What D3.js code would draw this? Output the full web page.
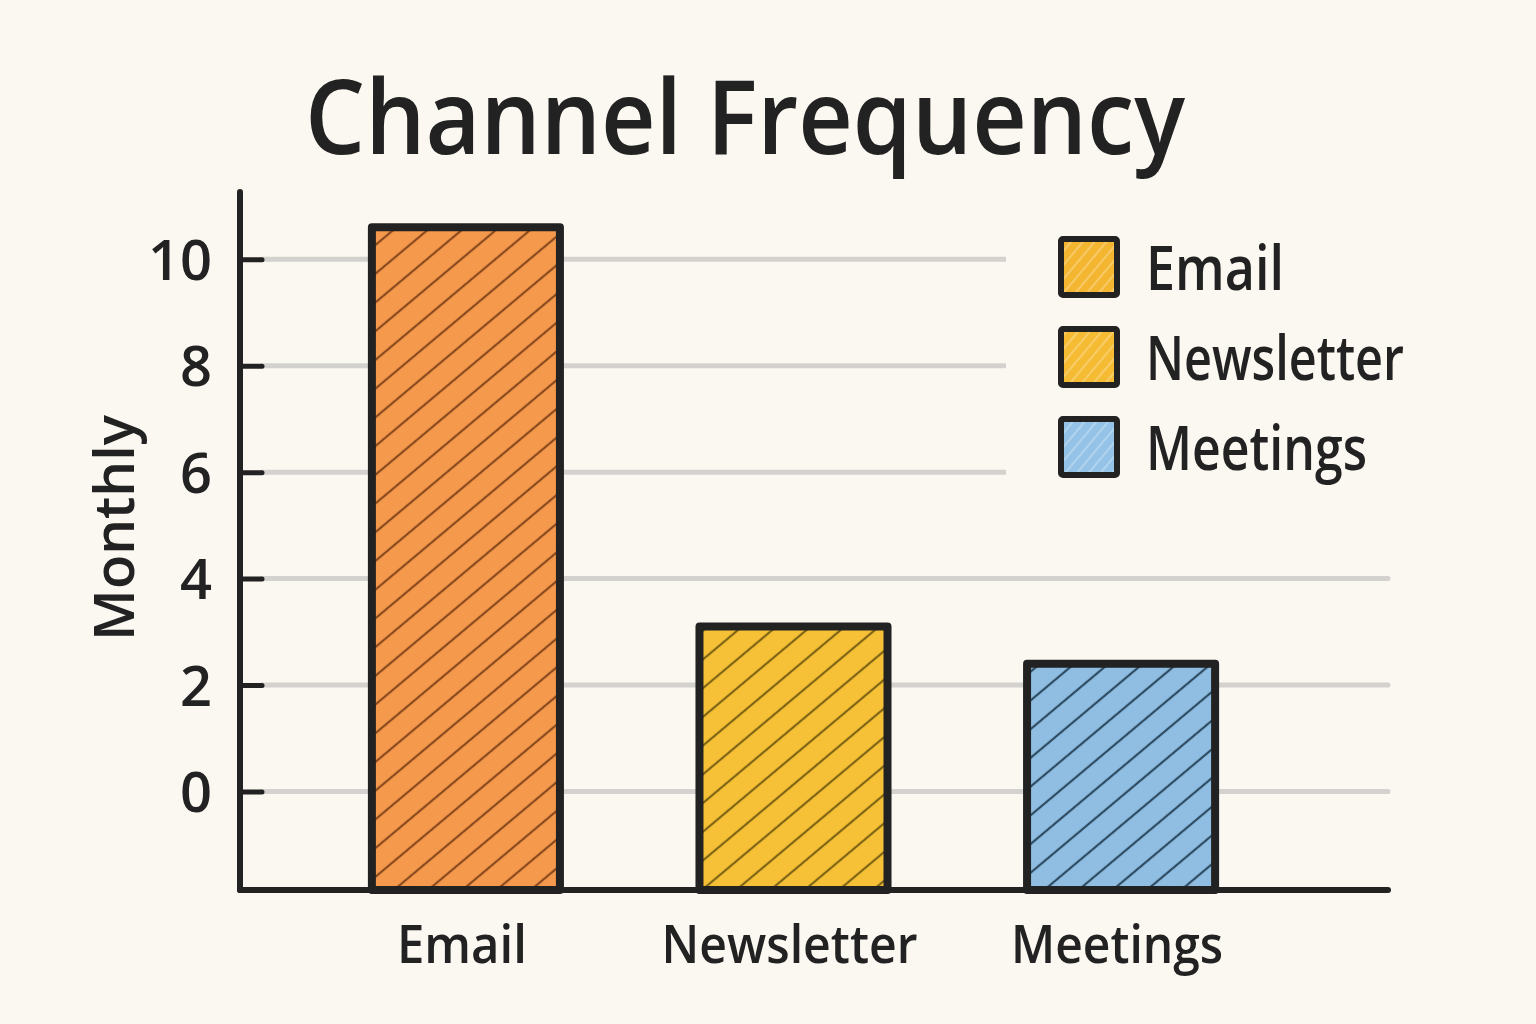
<!DOCTYPE html>
<html>
<head>
<meta charset="utf-8">
<script src="https://cdn.jsdelivr.net/npm/d3@7"></script>
<style>
  html, body { margin: 0; padding: 0; background: #FBF7F1; }
  svg { display: block; }
  text { font-family: "Open Sans", "Noto Sans", sans-serif; fill: #222; }
</style>
</head>
<body>
<svg id="chart" width="1536" height="1024"></svg>
<script>
// ---- data ----
const categories = ["Email", "Newsletter", "Meetings"];
const values = [10.6, 3.1, 2.4];
const yTicks = [0, 2, 4, 6, 8, 10];
const legendLabels = ["Email", "Newsletter", "Meetings"];
const titleText = "Channel Frequency";
const yLabelText = "Monthly";

// ---- styles ----
const barFill = ["#F5994C", "#F6C136", "#8FBEE2"];
const hatchColor = ["#8A4A1E", "#7E6414", "#2E4B62"];
const legendFill = ["#F4B631", "#F5BB33", "#95C3E7"];
const ink = "#222222";
const bg = "#FBF7F1";

const svg = d3.select("#chart");
svg.append("rect").attr("width", 1536).attr("height", 1024).attr("fill", bg);

const x = d3.scaleBand().domain(categories).range([290, 1297])
  .paddingInner(0.426).paddingOuter(0.25);
const y = d3.scaleLinear().domain([-1.85, 11.3]).range([890, 190]);
const baseY = y(-1.85);

// patterns
const defs = svg.append("defs");
categories.forEach((c, i) => {
  const p = defs.append("pattern").attr("id", "hatch" + i)
    .attr("patternUnits", "userSpaceOnUse").attr("width", 22).attr("height", 22)
    .attr("patternTransform", "rotate(-40)");
  p.append("rect").attr("width", 22).attr("height", 22).attr("fill", barFill[i]);
  p.append("line").attr("x1", 0).attr("y1", 11).attr("x2", 22).attr("y2", 11)
    .attr("stroke", hatchColor[i]).attr("stroke-width", 2.2);
});
legendLabels.forEach((c, i) => {
  const p = defs.append("pattern").attr("id", "lhatch" + i)
    .attr("patternUnits", "userSpaceOnUse").attr("width", 9).attr("height", 9)
    .attr("patternTransform", "rotate(-50)");
  p.append("rect").attr("width", 9).attr("height", 9).attr("fill", legendFill[i]);
  p.append("line").attr("x1", 0).attr("y1", 4).attr("x2", 9).attr("y2", 4)
    .attr("stroke", "#ffffff").attr("stroke-opacity", 0.35).attr("stroke-width", 1.5);
});

// gridlines
svg.append("g").selectAll("line").data(yTicks).join("line")
  .attr("x1", 262).attr("x2", 1388)
  .attr("y1", d => y(d)).attr("y2", d => y(d))
  .attr("stroke", "#D4D2CE").attr("stroke-width", 5).attr("stroke-linecap", "round");

// y axis
const yAxis = d3.axisLeft(y).tickValues(yTicks).tickSize(0).tickPadding(28);
const gy = svg.append("g").attr("transform", "translate(240,0)").call(yAxis);
gy.select(".domain").remove();
gy.selectAll("text").attr("font-size", 56).attr("font-weight", 600)
  .attr("fill", ink).attr("dy", "0.36em").style("font-family", "'Open Sans', sans-serif");
gy.selectAll(".tick").append("line").attr("x1", 0).attr("x2", 22)
  .attr("stroke", ink).attr("stroke-width", 5).attr("stroke-linecap", "round");

svg.append("line").attr("x1", 240).attr("x2", 240).attr("y1", 192).attr("y2", baseY)
  .attr("stroke", ink).attr("stroke-width", 6).attr("stroke-linecap", "round");

// bars
svg.append("g").selectAll("rect").data(values).join("rect")
  .attr("x", (d, i) => x(categories[i]))
  .attr("width", x.bandwidth())
  .attr("y", d => y(d))
  .attr("height", d => baseY - y(d))
  .attr("fill", (d, i) => `url(#hatch${i})`)
  .attr("stroke", ink).attr("stroke-width", 8).attr("stroke-linejoin", "round");

// x axis line
svg.append("line").attr("x1", 240).attr("x2", 1388).attr("y1", baseY).attr("y2", baseY)
  .attr("stroke", ink).attr("stroke-width", 6).attr("stroke-linecap", "round");

// x labels
const xLabelWidths = [130, 256, 212];
svg.append("g").selectAll("text").data(categories).join("text")
  .attr("x", d => x(d) + x.bandwidth() / 2 - 4)
  .attr("y", 963)
  .attr("text-anchor", "middle")
  .attr("font-size", 52).attr("font-weight", 600)
  .attr("textLength", (d, i) => xLabelWidths[i]).attr("lengthAdjust", "spacingAndGlyphs")
  .text(d => d);

// legend
const lg = svg.append("g");
lg.append("rect").attr("x", 1006).attr("y", 222).attr("width", 420).attr("height", 280).attr("fill", bg);
const legendWidths = [138, 258, 221];
legendLabels.forEach((d, i) => {
  const cy = 267 + i * 90;
  lg.append("rect").attr("x", 1061).attr("y", cy - 28).attr("width", 56).attr("height", 56)
    .attr("fill", `url(#lhatch${i})`).attr("stroke", ink).attr("stroke-width", 6)
    .attr("rx", 2);
  lg.append("text").attr("x", 1146).attr("y", cy + 23)
    .attr("font-size", 62).attr("font-weight", 600)
    .attr("textLength", legendWidths[i]).attr("lengthAdjust", "spacingAndGlyphs")
    .text(d);
});

// title
svg.append("text").attr("x", 305).attr("y", 154)
  .attr("font-size", 104).attr("font-weight", 600)
  .attr("textLength", 880).attr("lengthAdjust", "spacingAndGlyphs")
  .text(titleText);

// y label
svg.append("text").attr("transform", "translate(134,528) rotate(-90)")
  .attr("text-anchor", "middle")
  .attr("font-size", 56).attr("font-weight", 600)
  .attr("textLength", 226).attr("lengthAdjust", "spacingAndGlyphs")
  .text(yLabelText);
</script>
</body>
</html>
